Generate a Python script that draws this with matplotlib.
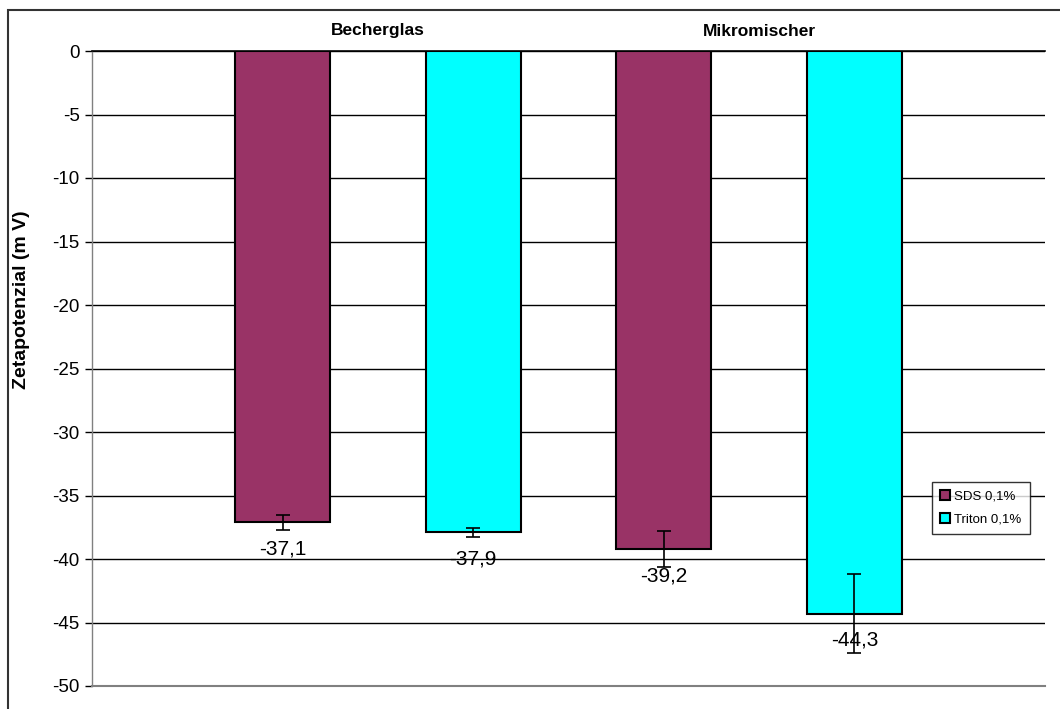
import numpy as np
import matplotlib.pyplot as plt
from matplotlib.patches import Rectangle

# data
groups = ['Becherglas', 'Mikromischer']
series = ['SDS 0,1%', 'Triton 0,1%']
sds_values = [-37.1, -39.2]
sds_errors = [0.6, 1.4]
triton_values = [-37.9, -44.3]
triton_errors = [0.35, 3.1]
colors = ['#993366', '#00FFFF']

plt.rcParams['font.family'] = ['Liberation Sans', 'DejaVu Sans']

fig = plt.figure(figsize=(10.6, 7.09), dpi=100)
ax = fig.add_axes([92 / 1060, 1 - 686 / 709, (1045 - 92) / 1060, (686 - 51) / 709])

# outer chart border
fig.patches.append(Rectangle((8 / 1060, -0.02), 1.05, 1 - 10 / 709 + 0.02,
                             transform=fig.transFigure, fill=False,
                             edgecolor='#333333', linewidth=1.5, zorder=0))

x = np.arange(len(groups))
width = 0.25
offsets = [-0.25, 0.25]
all_vals = [sds_values, triton_values]
all_errs = [sds_errors, triton_errors]

handles = []
for i in range(len(series)):
    pos = x + offsets[i]
    b = ax.bar(pos, all_vals[i], width, color=colors[i], edgecolor='black',
               linewidth=1.5, zorder=3, label=series[i])
    handles.append(b)
    for p, v in zip(pos, all_vals[i]):
        ax.text(p, v - 2.1, f'{v:.1f}'.replace('.', ','), ha='center', va='center',
                fontsize=15, zorder=4)
    ax.errorbar(pos, all_vals[i], yerr=all_errs[i], fmt='none', ecolor='black',
                elinewidth=1.2, capsize=5, capthick=1.2, zorder=5)

ax.set_xlim(-0.75, 1.75)
ax.set_ylim(-50, 0)
ax.set_yticks(np.arange(-50, 1, 5))
ax.set_yticklabels([str(t) for t in range(-50, 1, 5)], fontsize=13.5)
ax.yaxis.grid(True, color='black', linewidth=1.0, zorder=0)
ax.set_axisbelow(True)

ax.xaxis.tick_top()
ax.set_xticks(x)
ax.set_xticklabels(groups, fontsize=12.5, fontweight='bold')
ax.tick_params(axis='x', length=0, pad=9)
ax.tick_params(axis='y', length=5, width=1, color='black', pad=4)

ax.spines['right'].set_visible(False)
ax.spines['bottom'].set_color('#808080')
ax.spines['bottom'].set_linewidth(1.5)
ax.spines['left'].set_color('#808080')
ax.spines['left'].set_linewidth(1.0)
ax.spines['top'].set_color('black')
ax.spines['top'].set_linewidth(1.2)

fig.text(22 / 1060, 1 - 300 / 709, 'Zetapotenzial (m V)', rotation=90,
         ha='center', va='center', fontsize=14, fontweight='bold')

leg = ax.legend(handles=handles, loc='upper left',
                bbox_to_anchor=(932 / 1060, 1 - 482 / 709),
                bbox_transform=fig.transFigure, fontsize=9.5, frameon=True,
                fancybox=False, handlelength=0.8, handleheight=0.8,
                handletextpad=0.3, borderpad=0.6, labelspacing=0.8,
                borderaxespad=0)
leg.get_frame().set_edgecolor('black')
leg.get_frame().set_linewidth(1.0)

fig.savefig('out.png', dpi=100)
